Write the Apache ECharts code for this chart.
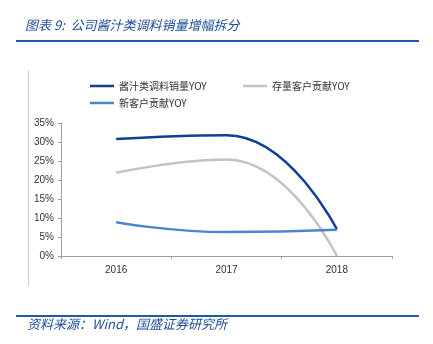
<!DOCTYPE html>
<html>
<head>
<meta charset="utf-8">
<script src="https://cdn.jsdelivr.net/npm/echarts@6/dist/echarts.min.js"></script>
<style>
html,body{margin:0;padding:0;background:#fff;}
#c{width:433px;height:344px;}
</style>
</head>
<body>
<div id="c"></div>
<script>
const categories = ['2016', '2017', '2018'];
const totalYoY = [30.8, 31.8, 7.0];
const existingYoY = [21.9, 25.4, 0];
const newYoY = [8.9, 6.3, 6.9];
const seriesNames = ['酱汁类调料销量YOY', '存量客户贡献YOY', '新客户贡献YOY'];
const yTicks = [0, 5, 10, 15, 20, 25, 30, 35];

const colors = ['#103F95', '#C3C3C3', '#4A85CF'];
const chart = echarts.init(document.getElementById('c'), null, {renderer: 'canvas'});
const cjk = '"Noto Sans CJK SC", "Liberation Sans", sans-serif';
const legendText = {fontSize: 10, color: '#333', fontFamily: cjk};
function lg(name, left, top) {
  return {data: [name], left: left, top: top, icon: 'rect', itemWidth: 24, itemHeight: 2.5,
    itemGap: 0, textStyle: legendText, padding: 0, selectedMode: false};
}
chart.setOption({
  animation: false,
  color: colors,
  graphic: [
    {type: 'text', left: 25, top: 19, style: {text: '图表 9:  公司酱汁类调料销量增幅拆分', fill: '#1D4D9B',
      font: 'italic 13px "Noto Sans CJK SC", sans-serif'}},
    {type: 'rect', shape: {x: 16, y: 40, width: 403, height: 2}, style: {fill: '#1F5AA8'}},
    {type: 'rect', shape: {x: 28, y: 70, width: 1, height: 216}, style: {fill: '#CFCFCF'}},
    {type: 'rect', shape: {x: 16, y: 315, width: 403, height: 2}, style: {fill: '#1F5AA8'}},
    {type: 'text', left: 27, top: 318, style: {text: '资料来源：Wind，国盛证券研究所', fill: '#1D4D9B',
      font: 'italic 13px "Noto Sans CJK SC", sans-serif'}}
  ],
  legend: [lg(seriesNames[0], 90, 81), lg(seriesNames[1], 243, 81), lg(seriesNames[2], 90, 98)],
  grid: {left: 61, right: 41, top: 123, bottom: 88},
  xAxis: {
    type: 'category', data: categories, boundaryGap: true,
    axisLine: {lineStyle: {color: '#A0A0A0', width: 1}},
    axisTick: {show: true, length: 3, inside: false, lineStyle: {color: '#A0A0A0'}},
    axisLabel: {fontSize: 10, color: '#333', margin: 9, fontFamily: '"Liberation Sans", sans-serif'}
  },
  yAxis: {
    type: 'value', min: yTicks[0], max: yTicks[yTicks.length - 1], interval: 5,
    splitLine: {show: false},
    axisLine: {show: true, lineStyle: {color: '#A0A0A0', width: 1}},
    axisTick: {show: true, length: 3, lineStyle: {color: '#A0A0A0'}},
    axisLabel: {fontSize: 10, color: '#333', margin: 7, formatter: '{value}%', fontFamily: '"Liberation Sans", sans-serif'}
  },
  series: [
    {name: seriesNames[0], type: 'line', data: totalYoY, smooth: 0.5, showSymbol: false, symbol: 'none',
      lineStyle: {width: 2.5, color: colors[0]}},
    {name: seriesNames[1], type: 'line', data: existingYoY, smooth: 0.5, showSymbol: false, symbol: 'none',
      lineStyle: {width: 2.5, color: colors[1]}},
    {name: seriesNames[2], type: 'line', data: newYoY, smooth: 0.5, showSymbol: false, symbol: 'none',
      lineStyle: {width: 2.5, color: colors[2]}}
  ]
});
</script>
</body>
</html>
